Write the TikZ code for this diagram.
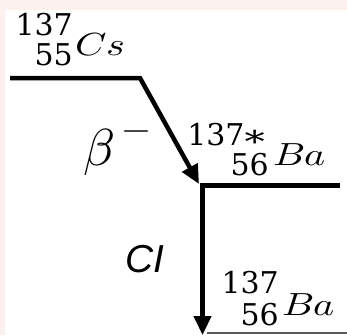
\documentclass[tikz,border=0pt]{standalone}
\usepackage{fontspec}
\usepackage{unicode-math}
\setmathfont{Latin Modern Math}
\newfontfamily\arialfont{Liberation Sans}
\newfontfamily\digitfont{DejaVu Serif}
\usetikzlibrary{arrows.meta}
\definecolor{bgpink}{RGB}{252,241,239}
\begin{document}
\begin{tikzpicture}[x=1pt,y=-1pt,
  level/.style={line width=5pt},
  decay/.style={line width=4.5pt,line join=miter,-{Triangle[length=19pt,width=17pt]}},
  ground/.style={line width=1.2pt,draw=black!65},
  num/.style={inner sep=0pt,font=\digitfont\fontsize{30}{33}\selectfont},
  sym/.style={inner sep=0pt,font=\fontsize{32}{36}\selectfont},
  lab/.style={inner sep=0pt},
]
\fill[bgpink] (0,0) rectangle (347,335);
\fill[white] (5,10) rectangle (347,335);
\useasboundingbox (0,0) rectangle (347,335);
% level coordinates
\coordinate (csL) at (10,78);
\coordinate (csR) at (140,78);
\coordinate (baxTip) at (199,184);
\coordinate (baxL) at (200,185);
\coordinate (baxR) at (340,185);
\coordinate (baxV) at (202.5,183);
\coordinate (baB) at (202.5,335);
\coordinate (baL) at (207,333);
\coordinate (baR) at (347,333);
% levels and transitions
\draw[decay] (csL) -- (csR) -- (baxTip);
\draw[level] (baxL) -- (baxR);
\draw[decay] (baxV) -- (baB);
\draw[ground] (baL) -- (baR);
% Cs-137
\node[num,anchor=base east] (csA) at (73,35) {137};
\node[num,anchor=base east] (csZ) at (73,65) {55};
\node[sym,anchor=base west] (csX) at (75,55) {\scalebox{1.25}[1]{$Cs$}};
% Ba-137*
\node[num,anchor=base east] (bxA) at (265,145) {137\raisebox{-7pt}[15pt][0pt]{\scalebox{1.35}[1]{*}}};
\node[num,anchor=base east] (bxZ) at (269,175) {56};
\node[sym,anchor=base west] (bxX) at (273,165) {\scalebox{1.25}[1]{$Ba$}};
% Ba-137
\node[num,anchor=base east] (bA) at (279,293) {137};
\node[num,anchor=base east] (bZ) at (279,325) {56};
\node[sym,anchor=base west] (bX) at (282,315) {\scalebox{1.25}[1]{$Ba$}};
% transition labels
\node[lab,anchor=base west,font=\fontsize{52}{56}\selectfont] (beta) at (83,165)
  {$\beta$\hspace{8pt}\raisebox{25pt}{\fontsize{36}{40}\selectfont$-$}};
\node[lab,anchor=base west,font=\arialfont\itshape\fontsize{39}{44}\selectfont] (ci) at (125,272) {CI};
\end{tikzpicture}
\end{document}
